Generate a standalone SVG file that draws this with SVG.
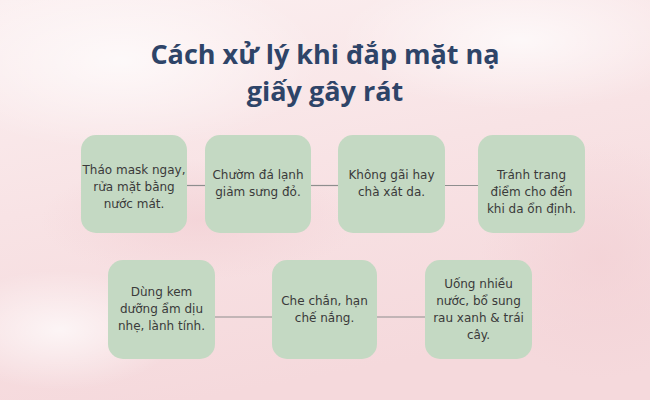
<svg xmlns="http://www.w3.org/2000/svg" width="650" height="400" viewBox="0 0 650 400">
  <defs>
    <linearGradient id="bg" x1="0" y1="0" x2="0.3" y2="1">
      <stop offset="0" stop-color="#fbeff0"/>
      <stop offset="0.5" stop-color="#f8e3e5"/>
      <stop offset="1" stop-color="#f5d9dc"/>
    </linearGradient>
    <radialGradient id="w1" cx="0.5" cy="0.5" r="0.5">
      <stop offset="0" stop-color="#ffffff" stop-opacity="0.7"/>
      <stop offset="1" stop-color="#ffffff" stop-opacity="0"/>
    </radialGradient>
    <radialGradient id="p1" cx="0.5" cy="0.5" r="0.5">
      <stop offset="0" stop-color="#f3d2d6" stop-opacity="0.8"/>
      <stop offset="1" stop-color="#f3d2d6" stop-opacity="0"/>
    </radialGradient>
  </defs>
  <style>
    .box { fill: #c4d9c3; }
    .lbl { font-family: "DejaVu Sans", "Noto Sans", sans-serif; font-size: 12px; fill: #3a3a3a; text-anchor: middle; }
    .title { font-family: "Open Sans", "Noto Sans", sans-serif; font-weight: 700; font-size: 27px; fill: #2e4468; text-anchor: middle; }
    .conn line { stroke: #8e8e8e; stroke-width: 1.2; }
  </style>
  <rect width="650" height="400" fill="url(#bg)"/>
  <ellipse cx="120" cy="60" rx="200" ry="90" fill="url(#w1)"/>
  <ellipse cx="520" cy="40" rx="180" ry="70" fill="url(#w1)"/>
  <ellipse cx="60" cy="330" rx="120" ry="60" fill="url(#w1)"/>
  <ellipse cx="600" cy="260" rx="120" ry="120" fill="url(#p1)"/>
  <ellipse cx="200" cy="220" rx="160" ry="60" fill="url(#p1)"/>

  <g id="title">
    <text class="title" x="325" y="64">Cách xử lý khi đắp mặt nạ</text>
    <text class="title" x="325" y="101">giấy gây rát</text>
  </g>

  <g class="conn" id="connectors">
    <line x1="187" y1="185.5" x2="205" y2="185.5"/>
    <line x1="311" y1="185.5" x2="338" y2="185.5"/>
    <line x1="445" y1="185.5" x2="478" y2="185.5"/>
    <line x1="215" y1="317" x2="272" y2="317"/>
    <line x1="377" y1="317" x2="425" y2="317"/>
  </g>

  <g id="node1">
    <rect class="box" x="81" y="135" width="106" height="98" rx="15"/>
    <text class="lbl" x="134" y="174">Tháo mask ngay,</text>
    <text class="lbl" x="134" y="191">rửa mặt bằng</text>
    <text class="lbl" x="134" y="208">nước mát.</text>
  </g>
  <g id="node2">
    <rect class="box" x="205" y="135" width="106" height="98" rx="15"/>
    <text class="lbl" x="258" y="179">Chườm đá lạnh</text>
    <text class="lbl" x="258" y="196">giảm sưng đỏ.</text>
  </g>
  <g id="node3">
    <rect class="box" x="338" y="135" width="107" height="98" rx="15"/>
    <text class="lbl" x="391.5" y="179">Không gãi hay</text>
    <text class="lbl" x="391.5" y="196">chà xát da.</text>
  </g>
  <g id="node4">
    <rect class="box" x="478" y="135" width="107" height="98" rx="15"/>
    <text class="lbl" x="531.5" y="179">Tránh trang</text>
    <text class="lbl" x="531.5" y="196">điểm cho đến</text>
    <text class="lbl" x="531.5" y="213">khi da ổn định.</text>
  </g>
  <g id="node5">
    <rect class="box" x="108" y="260" width="107" height="99" rx="15"/>
    <text class="lbl" x="161.5" y="296">Dùng kem</text>
    <text class="lbl" x="161.5" y="313">dưỡng ẩm dịu</text>
    <text class="lbl" x="161.5" y="330">nhẹ, lành tính.</text>
  </g>
  <g id="node6">
    <rect class="box" x="272" y="260" width="105" height="99" rx="15"/>
    <text class="lbl" x="324.5" y="305">Che chắn, hạn</text>
    <text class="lbl" x="324.5" y="322">chế nắng.</text>
  </g>
  <g id="node7">
    <rect class="box" x="425" y="260" width="107" height="99" rx="15"/>
    <text class="lbl" x="478.5" y="288">Uống nhiều</text>
    <text class="lbl" x="478.5" y="305">nước, bổ sung</text>
    <text class="lbl" x="478.5" y="322">rau xanh &amp; trái</text>
    <text class="lbl" x="478.5" y="339">cây.</text>
  </g>
</svg>
